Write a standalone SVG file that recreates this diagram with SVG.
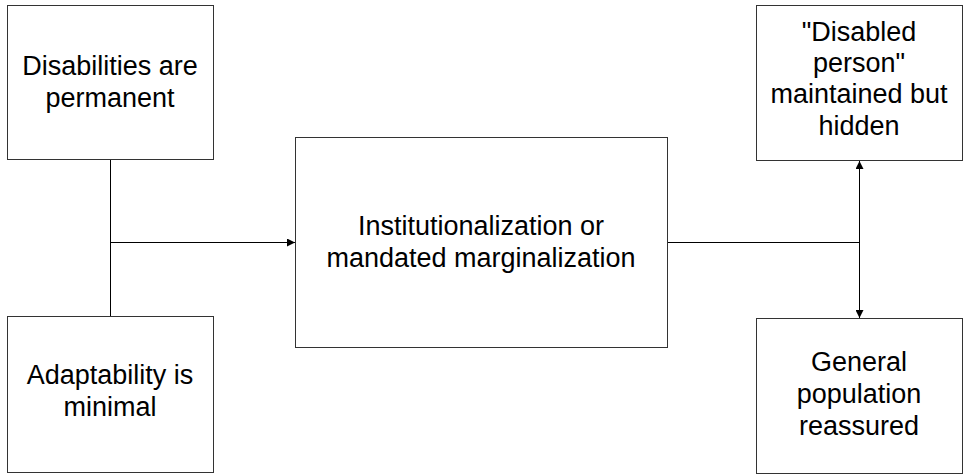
<svg xmlns="http://www.w3.org/2000/svg" width="964" height="475" viewBox="0 0 964 475">
<style>
.box{fill:#fff;stroke:#333;stroke-width:1}
.lbl{font-family:"Liberation Sans",Arial,sans-serif;font-size:27px;fill:#000;text-anchor:middle}
.con{stroke:#000;stroke-width:1;fill:none}
</style>
<defs>
<marker id="ah" viewBox="0 0 10 10" refX="10" refY="5" markerWidth="9" markerHeight="8" markerUnits="userSpaceOnUse" orient="auto-start-reverse">
<path d="M0,0 L10,5 L0,10 z" fill="#000"/>
</marker>
</defs>
<rect width="964" height="475" fill="#fff"/>
<g id="connectors">
<line class="con" x1="110.5" y1="159.5" x2="110.5" y2="316.5"/>
<line class="con" x1="110.5" y1="242.5" x2="295" y2="242.5" marker-end="url(#ah)"/>
<line class="con" x1="667.5" y1="242.5" x2="859.5" y2="242.5"/>
<line class="con" x1="859.5" y1="161" x2="859.5" y2="318" marker-start="url(#ah)" marker-end="url(#ah)"/>
</g>
<g id="n1">
<rect class="box" x="7.5" y="5.5" width="206" height="154"/>
<text class="lbl" x="110" y="75">Disabilities are</text>
<text class="lbl" x="110" y="107">permanent</text>
</g>
<g id="n2">
<rect class="box" x="7.5" y="316.5" width="206" height="156"/>
<text class="lbl" x="110" y="384">Adaptability is</text>
<text class="lbl" x="110" y="416">minimal</text>
</g>
<g id="n3">
<rect class="box" x="295.5" y="137.5" width="372" height="210"/>
<text class="lbl" x="481" y="235">Institutionalization or</text>
<text class="lbl" x="481" y="267">mandated marginalization</text>
</g>
<g id="n4">
<rect class="box" x="756.5" y="5.5" width="206" height="155"/>
<text class="lbl" x="859" y="41">"Disabled</text>
<text class="lbl" x="859" y="72">person"</text>
<text class="lbl" x="859" y="103">maintained but</text>
<text class="lbl" x="859" y="135">hidden</text>
</g>
<g id="n5">
<rect class="box" x="756.5" y="318.5" width="206" height="155"/>
<text class="lbl" x="859" y="371">General</text>
<text class="lbl" x="859" y="403">population</text>
<text class="lbl" x="859" y="435">reassured</text>
</g>
</svg>
